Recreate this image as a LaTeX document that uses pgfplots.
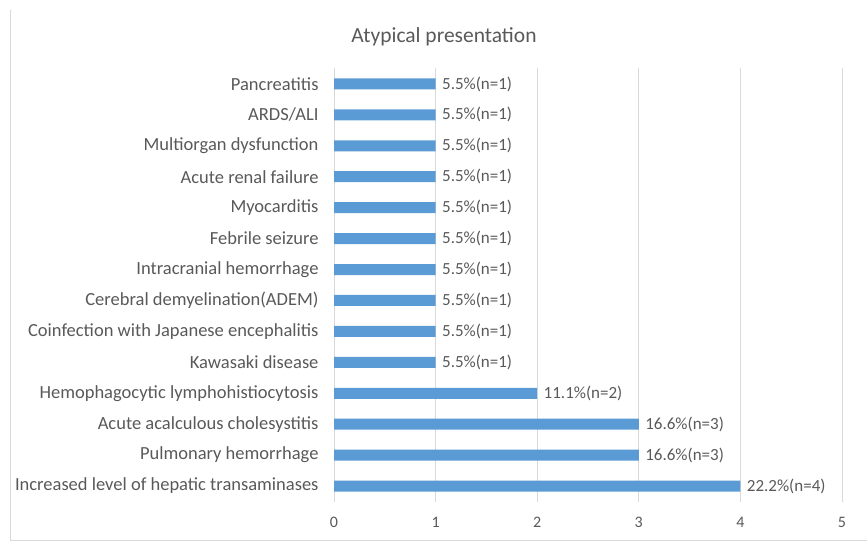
\documentclass[border=0pt]{standalone}
\usepackage{pgfplots}
\pgfplotsset{compat=1.18}
\usepackage{fontspec}
\setmainfont{Carlito}
\definecolor{barblue}{HTML}{5B9BD5}
\definecolor{txt}{HTML}{595959}
\definecolor{gridc}{HTML}{D9D9D9}
\begin{document}
\begin{tikzpicture}[x=1pt,y=1pt]
\path[use as bounding box] (0,0) rectangle (867,544);
\draw[gridc, line width=0.8pt] (10,4) -- (10,534);
\draw[gridc, line width=0.8pt] (10,4) -- (867,4);
\node[text=txt, font=\fontsize{21.5}{24}\selectfont] at (444,507) {Atypical presentation};
\begin{axis}[at={(334pt,42.5pt)}, anchor=south west, scale only axis,
  width=508pt, height=433pt,
  xbar, bar width=11pt,
  xmin=0, xmax=5, ymin=-0.5, ymax=13.5,
  axis line style={draw=none},
  xmajorgrids, grid style={gridc, line width=0.8pt},
  xtick={0,1,2,3,4,5}, ytick={0,...,13},
  yticklabels={Increased level of hepatic transaminases,Pulmonary hemorrhage,Acute acalculous cholesystitis,Hemophagocytic lymphohistiocytosis,Kawasaki disease,Coinfection with Japanese encephalitis,Cerebral demyelination(ADEM),Intracranial hemorrhage,Febrile seizure,Myocarditis,Acute renal failure,Multiorgan dysfunction,ARDS/ALI,Pancreatitis},
  major tick length=0,
  /pgf/number format/assume math mode=true,
  tick label style={text=txt},
  yticklabel style={font=\fontsize{18.5}{20}\selectfont, xshift=-12pt},
  xticklabel style={font=\fontsize{16}{18}\selectfont, anchor=center, yshift=-21pt},
  nodes near coords, point meta=explicit symbolic,
  nodes near coords style={font=\fontsize{17}{19}\selectfont, text=txt, anchor=west, xshift=3pt},
]
\addplot[fill=barblue, draw=none] coordinates {
(4,0) [22.2\%(n=4)]
(3,1) [16.6\%(n=3)]
(3,2) [16.6\%(n=3)]
(2,3) [11.1\%(n=2)]
(1,4) [5.5\%(n=1)]
(1,5) [5.5\%(n=1)]
(1,6) [5.5\%(n=1)]
(1,7) [5.5\%(n=1)]
(1,8) [5.5\%(n=1)]
(1,9) [5.5\%(n=1)]
(1,10) [5.5\%(n=1)]
(1,11) [5.5\%(n=1)]
(1,12) [5.5\%(n=1)]
(1,13) [5.5\%(n=1)]
};
\end{axis}
\end{tikzpicture}
\end{document}
